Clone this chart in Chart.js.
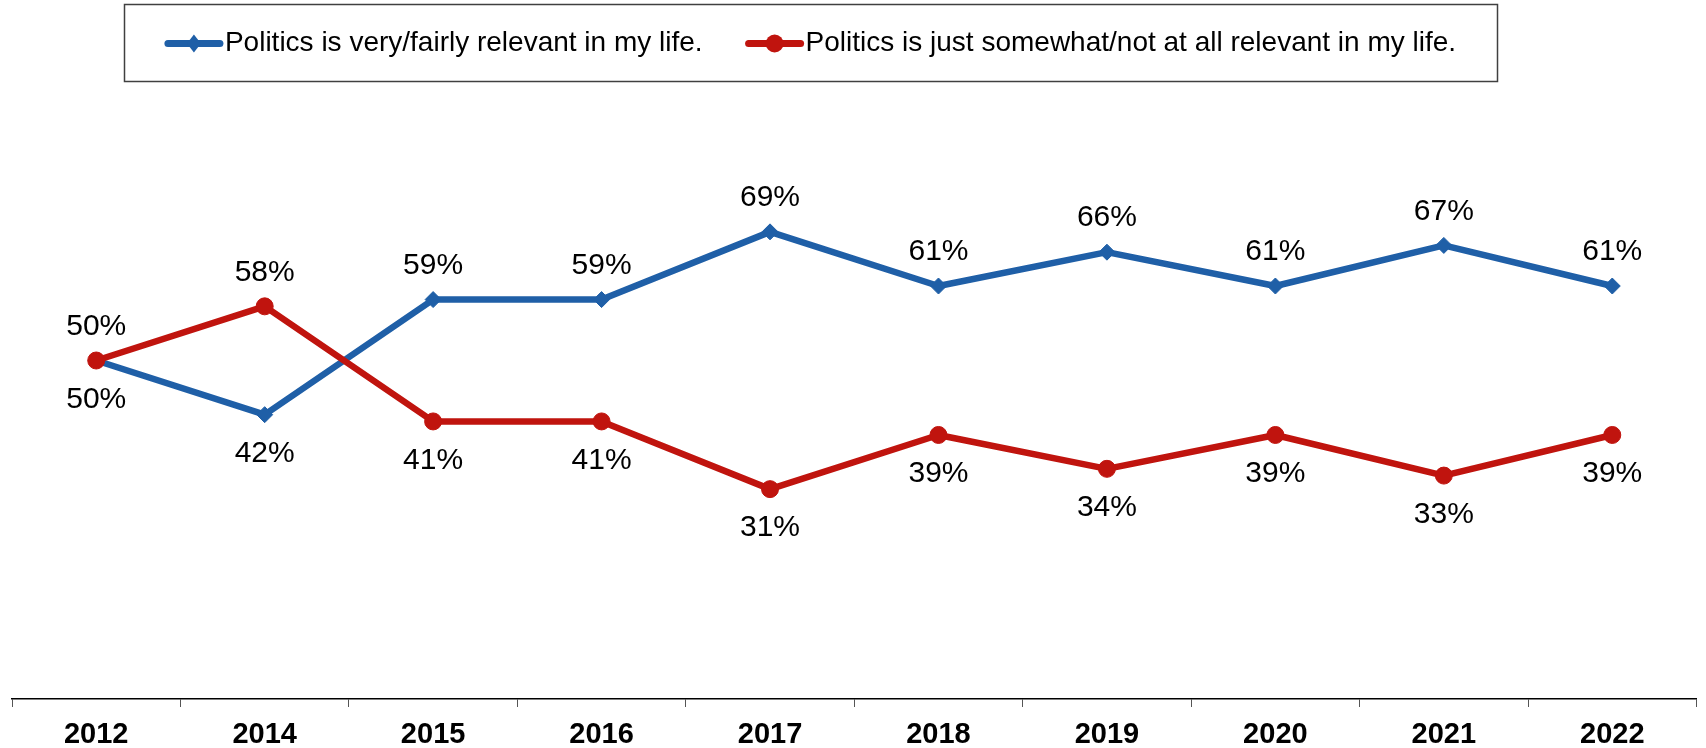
<!DOCTYPE html>
<html>
<head>
<meta charset="utf-8">
<script src="https://cdn.jsdelivr.net/npm/chart.js@4/dist/chart.umd.min.js"></script>
<style>
  html, body { margin: 0; padding: 0; background: #fff; }
  canvas { display: block; }
</style>
</head>
<body>
<canvas id="relevanceChart" width="1706" height="748"></canvas>
<script>
'use strict';

const FONT = '"Liberation Sans", Arial, sans-serif';

// Survey years
const years = ['2012', '2014', '2015', '2016', '2017', '2018', '2019', '2020', '2021', '2022'];

// Shares (%)
const relevantValues = [50, 42, 59, 59, 69, 61, 66, 61, 67, 61];
const notRelevantValues = [50, 58, 41, 41, 31, 39, 34, 39, 33, 39];

// Where each value label sits relative to its point
const relevantLabelPos = ['below', 'below', 'above', 'above', 'above', 'above', 'above', 'above', 'above', 'above'];
const notRelevantLabelPos = ['above', 'above', 'below', 'below', 'below', 'below', 'below', 'below', 'below', 'below'];

const BLUE = '#1f5fa7';
const RED = '#c0140e';

// Value labels over/under points
const valueLabels = {
    id: 'valueLabels',
    afterDatasetsDraw(chart) {
        const ctx = chart.ctx;
        ctx.save();
        ctx.font = '30px ' + FONT;
        ctx.fillStyle = '#000';
        ctx.textAlign = 'center';
        ctx.textBaseline = 'middle';
        chart.data.datasets.forEach((ds, di) => {
            const meta = chart.getDatasetMeta(di);
            meta.data.forEach((pt, i) => {
                const pos = ds.labelPos[i];
                const y = pos === 'above' ? pt.y - 34 : pt.y + 39;
                ctx.fillText(ds.data[i] + '%', pt.x, y);
            });
        });
        ctx.restore();
    }
};

// Legend in a framed box at the top
const boxLegend = {
    id: 'boxLegend',
    afterDraw(chart) {
        const ctx = chart.ctx;
        const box = { left: 124, top: 4, right: 1497, bottom: 81 };
        ctx.save();
        ctx.strokeStyle = '#404040';
        ctx.lineWidth = 1.5;
        ctx.strokeRect(box.left + 0.5, box.top + 0.5, box.right - box.left, box.bottom - box.top);

        ctx.font = '28px ' + FONT;
        ctx.textBaseline = 'middle';
        ctx.textAlign = 'left';

        const lineLen = 58;
        const gapText = 2;
        const gapItem = 43;
        const items = chart.data.datasets.map(ds => ({ ds, w: ctx.measureText(ds.label).width }));
        const total = items.reduce((s, it) => s + lineLen + gapText + it.w, 0) + gapItem * (items.length - 1);
        let x = box.left + (box.right - box.left - total) / 2;
        const y = (box.top + box.bottom) / 2 + 1;

        items.forEach(({ ds, w }) => {
            ctx.strokeStyle = ds.borderColor;
            ctx.fillStyle = ds.borderColor;
            ctx.lineWidth = 7;
            ctx.lineCap = 'round';
            ctx.beginPath();
            ctx.moveTo(x + 3, y);
            ctx.lineTo(x + lineLen - 3, y);
            ctx.stroke();

            const cx = x + lineLen / 2;
            ctx.beginPath();
            if (ds.pointStyle === 'rectRot') {
                ctx.moveTo(cx, y - 9);
                ctx.lineTo(cx + 7, y);
                ctx.lineTo(cx, y + 9);
                ctx.lineTo(cx - 7, y);
                ctx.closePath();
            } else {
                ctx.arc(cx, y, 9, 0, Math.PI * 2);
            }
            ctx.fill();

            ctx.fillStyle = '#000';
            ctx.fillText(ds.label, x + lineLen + gapText, y);
            x += lineLen + gapText + w + gapItem;
        });
        ctx.restore();
    }
};

const ctx = document.getElementById('relevanceChart').getContext('2d');

new Chart(ctx, {
    type: 'line',
    data: {
        labels: years,
        datasets: [{
            label: 'Politics is very/fairly relevant in my life.',
            data: relevantValues,
            labelPos: relevantLabelPos,
            borderColor: BLUE,
            backgroundColor: BLUE,
            borderWidth: 6.5,
            pointStyle: 'rectRot',
            pointRadius: 8,
            pointBorderWidth: 1,
            tension: 0,
            order: 1
        }, {
            label: 'Politics is just somewhat/not at all relevant in my life.',
            data: notRelevantValues,
            labelPos: notRelevantLabelPos,
            borderColor: RED,
            backgroundColor: RED,
            borderWidth: 6.5,
            pointStyle: 'circle',
            pointRadius: 8.5,
            pointBorderWidth: 1,
            tension: 0,
            order: 0
        }]
    },
    options: {
        responsive: false,
        animation: false,
        devicePixelRatio: 1,
        layout: {
            padding: { top: 22, left: 12, right: 8, bottom: 0 }
        },
        elements: {
            line: { borderCapStyle: 'round', borderJoinStyle: 'round' }
        },
        scales: {
            y: {
                display: false,
                min: 0,
                max: 100
            },
            x: {
                offset: true,
                afterFit: (scale) => { scale.height = 49; },
                ticks: {
                    color: '#000',
                    padding: 11,
                    font: { family: FONT, size: 29, weight: 'bold' }
                },
                grid: {
                    offset: true,
                    drawOnChartArea: false,
                    drawTicks: true,
                    tickLength: 8,
                    color: '#555'
                },
                border: {
                    display: true,
                    color: '#000',
                    width: 1.5
                }
            }
        },
        plugins: {
            legend: { display: false },
            tooltip: { enabled: false }
        }
    },
    plugins: [valueLabels, boxLegend]
});
</script>
</body>
</html>
